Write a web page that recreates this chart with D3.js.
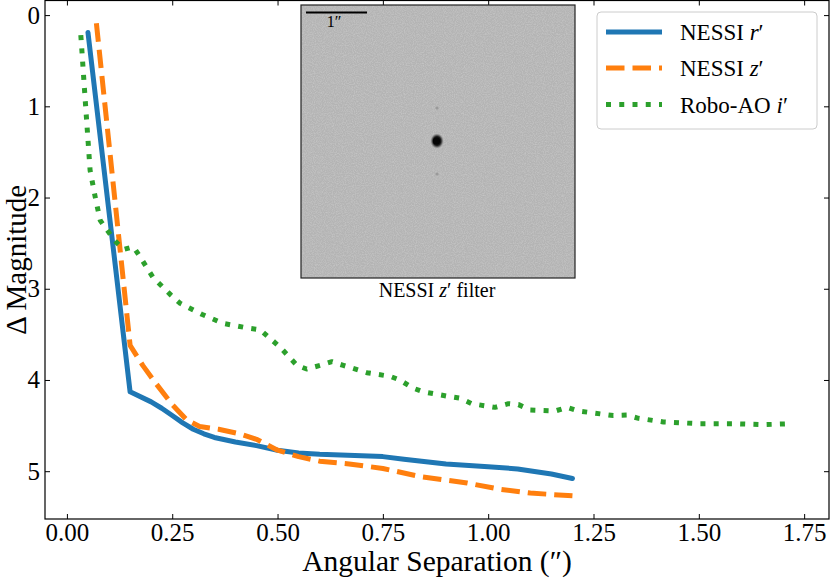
<!DOCTYPE html>
<html><head><meta charset="utf-8">
<script src="https://cdn.jsdelivr.net/npm/d3@7"></script>
<style>body{margin:0;background:#fff}svg{display:block}text{font-family:"Liberation Serif","Times New Roman",serif;fill:#000}</style>
</head><body>
<svg id="c" width="830" height="578"></svg>
<script>
const xTicks = [0.00, 0.25, 0.50, 0.75, 1.00, 1.25, 1.50, 1.75];
const yTicks = [0, 1, 2, 3, 4, 5];

const rSep = [0.05,0.15,0.2,0.225,0.25,0.275,0.3,0.325,0.35,0.4,0.45,0.5,0.55,0.6,0.7,0.75,0.8,0.9,1.0,1.07,1.15,1.2];
const rMag = [0.19,4.13,4.24,4.31,4.39,4.47,4.54,4.59,4.63,4.68,4.72,4.77,4.80,4.815,4.83,4.84,4.87,4.92,4.95,4.975,5.03,5.08];

const zSep = [0.07,0.15,0.18,0.21,0.25,0.285,0.315,0.36,0.41,0.45,0.5,0.55,0.6,0.67,0.75,0.84,0.95,1.03,1.1,1.2];
const zMag = [0.09,3.62,3.84,4.03,4.27,4.44,4.51,4.54,4.59,4.65,4.77,4.84,4.89,4.92,4.97,5.06,5.13,5.2,5.24,5.27];

const iSep = [0.033,0.035,0.043,0.049,0.055,0.067,0.079,0.096,0.114,0.134,0.158,0.175,0.205,0.225,0.247,0.269,0.32,0.371,0.435,0.459,0.506,0.546,0.569,0.601,0.629,0.656,0.712,0.767,0.79,0.822,0.846,0.906,0.933,0.961,1.016,1.048,1.072,1.1,1.159,1.187,1.214,1.297,1.329,1.357,1.416,1.503,1.59,1.653,1.713];
const iMag = [0.22,0.35,0.9,1.3,1.7,1.99,2.25,2.36,2.475,2.57,2.54,2.66,2.88,2.97,3.07,3.16,3.28,3.38,3.435,3.45,3.64,3.84,3.88,3.84,3.80,3.84,3.92,3.96,4.0,4.09,4.13,4.18,4.2,4.26,4.30,4.26,4.27,4.33,4.34,4.30,4.34,4.39,4.385,4.42,4.46,4.48,4.48,4.49,4.48];

const seriesNames = ["NESSI", "NESSI", "Robo-AO"];
const seriesFilters = ["r", "z", "i"];
const colors = ["#1f77b4", "#ff7f0e", "#2ca02c"];

const L = 45, R = 829, T = 0.5, B = 519;
const svg = d3.select("#c");
const x = d3.scaleLinear().domain([-0.052, 1.809]).range([L, R]);
const y = d3.scaleLinear().domain([-0.16, 5.524]).range([T, B]);

const defs = svg.append("defs");
const f = defs.append("filter").attr("id","noise").attr("x",0).attr("y",0).attr("width","100%").attr("height","100%");
f.append("feTurbulence").attr("type","fractalNoise").attr("baseFrequency",0.9).attr("numOctaves",2).attr("seed",3).attr("result","n");
f.append("feColorMatrix").attr("in","n").attr("type","matrix")
 .attr("values","0 0 0 0 0.62  0 0 0 0 0.62  0 0 0 0 0.62  0 0 0 1.2 -0.45").attr("result","g");
f.append("feComposite").attr("in","g").attr("in2","SourceGraphic").attr("operator","over");
const rg = defs.append("radialGradient").attr("id","star");
rg.append("stop").attr("offset","0%").attr("stop-color","#000");
rg.append("stop").attr("offset","55%").attr("stop-color","#1a1a1a");
rg.append("stop").attr("offset","80%").attr("stop-color","#888");
rg.append("stop").attr("offset","100%").attr("stop-color","#b4b4b4").attr("stop-opacity",0);

// axes (ticks inward)
const fmt = d3.format(".2f");
const gx = svg.append("g").attr("transform",`translate(0,${B})`)
  .call(d3.axisBottom(x).tickValues(xTicks).tickFormat(fmt).tickSizeInner(-5).tickSizeOuter(0).tickPadding(4));
const gy = svg.append("g").attr("transform",`translate(${L},0)`)
  .call(d3.axisLeft(y).tickValues(yTicks).tickFormat(d3.format("d")).tickSizeInner(-5).tickSizeOuter(0).tickPadding(5));
const gxt = svg.append("g").attr("transform",`translate(0,${T})`)
  .call(d3.axisTop(x).tickValues(xTicks).tickFormat("").tickSizeInner(-5).tickSizeOuter(0));
const gyr = svg.append("g").attr("transform",`translate(${R},0)`)
  .call(d3.axisRight(y).tickValues(yTicks).tickFormat("").tickSizeInner(-5).tickSizeOuter(0));
[gx,gy,gxt,gyr].forEach(g=>{
  g.select(".domain").remove();
  g.selectAll(".tick line").attr("stroke","#000").attr("stroke-width",1);
  g.selectAll("text").attr("font-family",'"Liberation Serif",serif').attr("font-size",25).attr("fill","#000");
});
svg.append("rect").attr("x",L).attr("y",T).attr("width",R-L).attr("height",B-T)
  .attr("fill","none").attr("stroke","#000").attr("stroke-width",1.2);

// lines
const line = d3.line().x(d=>x(d[0])).y(d=>y(d[1]));
const data = [d3.zip(rSep,rMag), d3.zip(zSep,zMag), d3.zip(iSep,iMag)];
const dashes = [null, "18.5,8", "5,8.25"];
const caps = ["round","butt","butt"];
data.forEach((d,i)=>{
  svg.append("path").datum(d).attr("d",line).attr("fill","none")
    .attr("stroke",colors[i]).attr("stroke-width",5)
    .attr("stroke-dasharray",dashes[i]).attr("stroke-linecap",caps[i]).attr("stroke-linejoin","round");
});

// inset image
const ix = 301, iy = 5, iw = 274, ih = 273;
svg.append("rect").attr("x",ix).attr("y",iy).attr("width",iw).attr("height",ih).attr("fill","#b4b4b4").attr("filter","url(#noise)");
svg.append("rect").attr("x",ix).attr("y",iy).attr("width",iw).attr("height",ih).attr("fill","none").attr("stroke","#222").attr("stroke-width",1.2);
svg.append("ellipse").attr("cx",437).attr("cy",141).attr("rx",7).attr("ry",8).attr("fill","url(#star)");
svg.append("circle").attr("cx",436.5).attr("cy",141).attr("r",3.6).attr("fill","#050505");
[[437,108],[437,174]].forEach(p=>svg.append("circle").attr("cx",p[0]).attr("cy",p[1]).attr("r",1.6).attr("fill","#9a9a9a"));
svg.append("line").attr("x1",306).attr("x2",367).attr("y1",12.5).attr("y2",12.5).attr("stroke","#000").attr("stroke-width",2);
svg.append("text").attr("x",334).attr("y",27).attr("font-size",16).attr("text-anchor","middle").text("1\u2033");
const cap = svg.append("text").attr("x",437).attr("y",297).attr("font-size",20).attr("text-anchor","middle");
cap.append("tspan").text("NESSI ");
cap.append("tspan").attr("font-style","italic").text("z");
cap.append("tspan").text("\u2032 filter");

// legend
svg.append("rect").attr("x",597).attr("y",12).attr("width",220).attr("height",117).attr("rx",4)
  .attr("fill","#fff").attr("fill-opacity",0.8).attr("stroke","#ccc").attr("stroke-width",1);
const rowY = [32, 68, 104.5];
seriesNames.forEach((n,i)=>{
  svg.append("line").attr("x1",606).attr("x2",662).attr("y1",rowY[i]).attr("y2",rowY[i])
    .attr("stroke",colors[i]).attr("stroke-width",5).attr("stroke-dasharray",dashes[i]).attr("stroke-linecap","butt");
  const t = svg.append("text").attr("x",680).attr("y",rowY[i]).attr("dy","0.35em").attr("font-size",23);
  t.append("tspan").text(n+" ");
  t.append("tspan").attr("font-style","italic").text(seriesFilters[i]);
  t.append("tspan").text("\u2032");
});

// axis labels
svg.append("text").attr("x",(L+R)/2).attr("y",571).attr("font-size",29.5).attr("text-anchor","middle")
  .text("Angular Separation (\u2033)");
svg.append("text").attr("transform",`translate(26,${(T+B)/2}) rotate(-90)`).attr("font-size",29)
  .attr("text-anchor","middle").text("\u0394 Magnitude");
</script>
</body></html>
